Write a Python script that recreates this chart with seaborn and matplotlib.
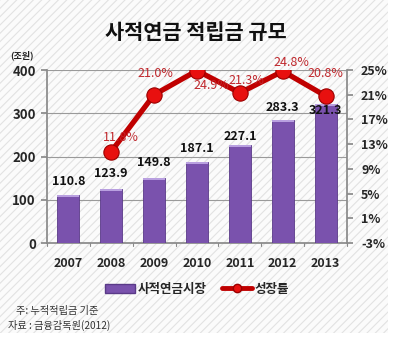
import matplotlib
matplotlib.use("Agg")
import matplotlib.pyplot as plt
import seaborn as sns
import pandas as pd
import numpy as np
from matplotlib.patches import Rectangle
from matplotlib.lines import Line2D
from matplotlib.patches import Patch

years = ["2007", "2008", "2009", "2010", "2011", "2012", "2013"]
market = [110.8, 123.9, 149.8, 187.1, 227.1, 283.3, 321.3]
growth_years = ["2008", "2009", "2010", "2011", "2012", "2013"]
growth = [11.8, 21.0, 24.9, 21.3, 24.8, 20.8]
left_ticks = [0, 100, 200, 300, 400]
right_ticks = [-3, 1, 5, 9, 13, 17, 21, 25]

title = "사적연금 적립금 규모"
unit = "(조원)"
bar_name = "사적연금시장"
line_name = "성장률"
note1 = "주: 누적적립금 기준"
note2 = "자료 : 금융감독원(2012)"

sns.set_theme(style="white")
FAM = ["Noto Sans CJK KR", "DejaVu Sans"]
plt.rcParams["font.family"] = FAM
plt.rcParams["hatch.linewidth"] = 0.8

BAR = "#7a52ad"
LINE = "#c00000"
PCT = "#c0282d"

fig = plt.figure(figsize=(3.94, 3.39), dpi=100)
fig.patch.set_facecolor("white")
bg = Rectangle((0, 0.018), 0.985, 0.982, transform=fig.transFigure,
               facecolor="#fbfbfb", edgecolor="#e2e2e2", hatch="////", lw=0, zorder=-10)
fig.patches.append(bg)

ax = fig.add_axes([0.119, 0.283, 0.762, 0.5105])
ax.patch.set_alpha(0)
df = pd.DataFrame({"year": years, "market": market})
sns.barplot(data=df, x="year", y="market", color=BAR, width=0.52,
            saturation=1, ax=ax, zorder=3, edgecolor="#5a3a88", linewidth=0.6)
# lighter tops for bars
for p in list(ax.patches):
    x0, w, h = p.get_x(), p.get_width(), p.get_height()
    ax.add_patch(Rectangle((x0, h - 4), w, 4, facecolor="#b9a0e0", lw=0, zorder=4))

ax.set_xlim(-0.5, 6.5)
ax.set_ylim(0, 400)
ax.set_yticks(left_ticks)
ax.set_yticklabels([str(t) for t in left_ticks], fontweight="bold", fontsize=9.5)
ax.set_xticks(range(len(years)))
ax.set_xticklabels(years, fontweight="bold", fontsize=9)
ax.set_xlabel("")
ax.set_ylabel("")
ax.grid(axis="y", color="#9a9a9a", lw=0.8, zorder=0)
ax.set_axisbelow(True)
for s in ["top", "right"]:
    ax.spines[s].set_visible(False)
ax.spines["left"].set_color("#8a8a8a")
ax.spines["bottom"].set_color("#8a8a8a")
ax.tick_params(axis="y", length=4, color="#8a8a8a", pad=4, left=True, direction="out")
ax.tick_params(axis="x", length=0, pad=10)
for xb in np.arange(-0.5, 7.0, 1.0):
    ax.plot([xb, xb], [0, -6], color="#8a8a8a", lw=0.8, clip_on=False, zorder=5)

label_off = [9.5, 11.5, 11, 9.5, 6, 9.5, -4.3]
for i, v in enumerate(market):
    ax.annotate(f"{v:.1f}", (i, v), xytext=(0, label_off[i]), textcoords="offset points",
                ha="center", va="center", fontsize=9, fontweight="bold", color="#111111", zorder=6,
                annotation_clip=False)

ax2 = ax.twinx()
ax2.set_ylim(-3, 25)
gdf = pd.DataFrame({"year": [years.index(y) for y in growth_years], "growth": growth})
sns.lineplot(data=gdf, x="year", y="growth", ax=ax2, color=LINE, lw=3.8, zorder=5,
             marker="o", markersize=11, markerfacecolor="#e8100f",
             markeredgecolor="#9a0000", markeredgewidth=0.8)
ax2.set_xlim(-0.5, 6.5)
ax2.set_ylabel("")
ax2.set_xlabel("")
ax2.set_yticks(right_ticks)
ax2.set_yticklabels([f"{t}%" for t in right_ticks], fontweight="bold", fontsize=9)
for s in ["top", "left", "bottom"]:
    ax2.spines[s].set_visible(False)
ax2.spines["right"].set_color("#8a8a8a")
ax2.tick_params(axis="y", right=True, length=4, color="#8a8a8a", pad=6, direction="out")
ax2.grid(False)

pct_off = [(7, 10), (1, 15), (10, -11), (5, 8.6), (6.5, 6.5), (0, 16.5)]
for (yr, g), (dx, dy) in zip(zip(growth_years, growth), pct_off):
    ax2.annotate(f"{g:.1f}%", (years.index(yr), g), xytext=(dx, dy), textcoords="offset points",
                 ha="center", va="center", fontsize=9, color=PCT, zorder=7, annotation_clip=False)

fig.text(0.497, 0.905, title, ha="center", va="center", fontsize=15, fontweight="bold", color="#111111")
fig.text(0.055, 0.838, unit, ha="center", va="center", fontsize=6.5, fontweight="bold", color="#222222")

handles = [Patch(facecolor=BAR, edgecolor="#5a3a88"),
           Line2D([0], [0], color=LINE, lw=3.5, marker="o", markersize=6,
                  markerfacecolor="#e8100f", markeredgecolor="#9a0000")]
fig.legend(handles, [bar_name, line_name], loc="center", bbox_to_anchor=(0.5, 0.147), ncol=2,
           frameon=False, prop={"family": FAM, "weight": "bold", "size": 9},
           handlelength=2.4, handletextpad=0.2, columnspacing=1.2)

fig.text(0.04, 0.082, note1, ha="left", va="center", fontsize=7.3, color="#333333")
fig.text(0.02, 0.041, note2, ha="left", va="center", fontsize=7.3, color="#333333")

fig.savefig("out.png", dpi=100)
